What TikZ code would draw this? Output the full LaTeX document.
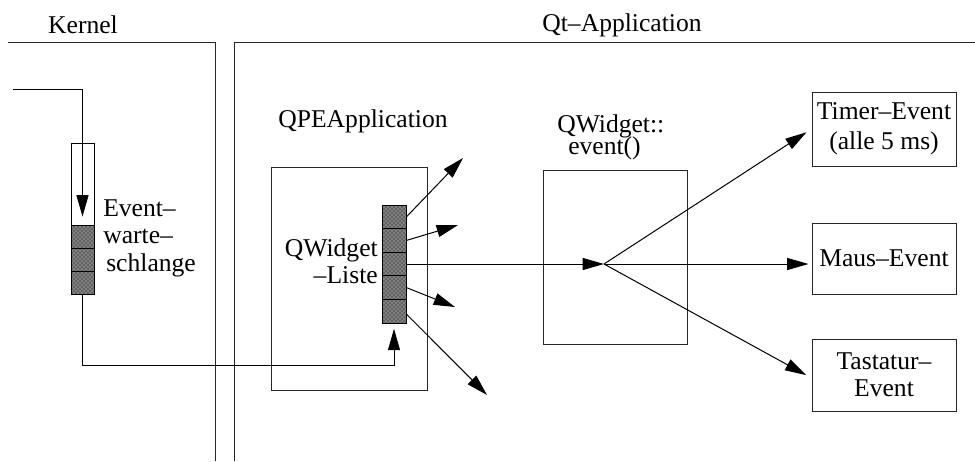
\documentclass[tikz,border=0pt]{standalone}
\usepackage{fontspec}
\setmainfont{Liberation Serif}
\usetikzlibrary{arrows.meta,patterns}
\newdimen\pxu
\pxu=0.75pt
\begin{document}
\begin{tikzpicture}[x=0.75pt,y=-0.75pt,
  font=\fontsize{19.2}{20.6}\selectfont,
  line/.style={line width=0.75pt},
  tip/.style={-{Triangle[length=16pt,width=9pt]}},
  frame/.style={line width=0.75pt,draw=black!85},
  box/.style={draw=black!85,line width=0.75pt,inner sep=0pt,align=center},
  cell/.style={draw,line width=0.75pt,fill=black!50,
    postaction={pattern=crosshatch dots,pattern color=black},
    minimum width=24*\pxu,minimum height=23.6*\pxu,inner sep=0pt},
  qcell/.style={cell,minimum width=23*\pxu,minimum height=23.3*\pxu},
  lbl/.style={inner sep=0pt},
]
\useasboundingbox (0,0) rectangle (975,461);

% region frames
\draw[frame] (8,42) -- (215,42) -- (215,461);
\draw[frame] (234,461) -- (234,42) -- (975,42);
\node[lbl] (kernel) at (83,24.5) {Kernel};
\node[lbl] (qtapp) at (622,25) {Qt–Application};

% kernel event queue
\node[box,draw=black,fill=white,minimum width=23*\pxu,minimum height=82*\pxu] (qtop) at (82.5,184) {};
\node[qcell] (q1) at (82.5,236.7) {};
\node[qcell] (q2) at (82.5,260) {};
\node[qcell] (q3) at (82.5,283.3) {};
\node[lbl,anchor=west,align=left] (qlbl) at (103,238) {Event–\\warte–\\\hspace*{3\pxu}schlange};

% QPEApplication with its widget list
\node[lbl] (qpelbl) at (363,121) {QPEApplication};
\node[box,minimum width=156*\pxu,minimum height=223*\pxu] (qpe) at (349,278.5) {};
\node[cell] (c1) at (394,216.8) {};
\node[cell] (c2) at (394,240.4) {};
\node[cell] (c3) at (394,264) {};
\node[cell] (c4) at (394,287.6) {};
\node[cell] (c5) at (394,311.2) {};
\node[lbl,anchor=east,align=right] (listlbl) at (378,261) {QWidget\\–Liste};

% QWidget::event()
\node[lbl,anchor=north west,align=left] (evlbl) at (557,114) {QWidget::\\[-3.5pt]\hspace*{11\pxu}event()};
\node[box,minimum width=144*\pxu,minimum height=174*\pxu] (evbox) at (615,257) {};
\coordinate (fan) at (604,264);

% event targets
\node[box,minimum width=144*\pxu,minimum height=74*\pxu] (timer) at (884,129) {Timer–Event\\[2pt](alle 5 ms)};
\node[box,minimum width=144*\pxu,minimum height=71*\pxu] (maus) at (884,258.5) {Maus–Event};
\node[box,minimum width=144*\pxu,minimum height=72*\pxu] (tast) at (884,375) {Tastatur–\\Event};

% connectors
\coordinate (src) at (13,89);
\draw[line,tip] (src) -- (src -| qtop.center) -- ([yshift=6pt]q1.north);
\draw[line,tip] (q3.south) -- ++(0,70) -| ([yshift=-4pt]c5.south);

\coordinate (o1) at (463,158);
\coordinate (o2) at (458,225);
\coordinate (o4) at (455,307);
\coordinate (o5) at (487,395);
\draw[line,tip] (c1.east) -- (o1);
\draw[line,tip] (c2.east) -- (o2);
\draw[line,tip] (c4.east) -- (o4);
\draw[line,tip] ([yshift=-3\pxu]c5.east) -- (o5);
\draw[line,tip] (c3.east) -- (fan);

\draw[line,tip,shorten >=4.5pt] (fan) -- (timer.west);
\draw[line,tip] (fan) -- ([xshift=-3\pxu]maus.west |- fan);
\draw[line,tip,shorten >=4.5pt] (fan) -- ([yshift=-3\pxu]tast.west);
\end{tikzpicture}
\end{document}
